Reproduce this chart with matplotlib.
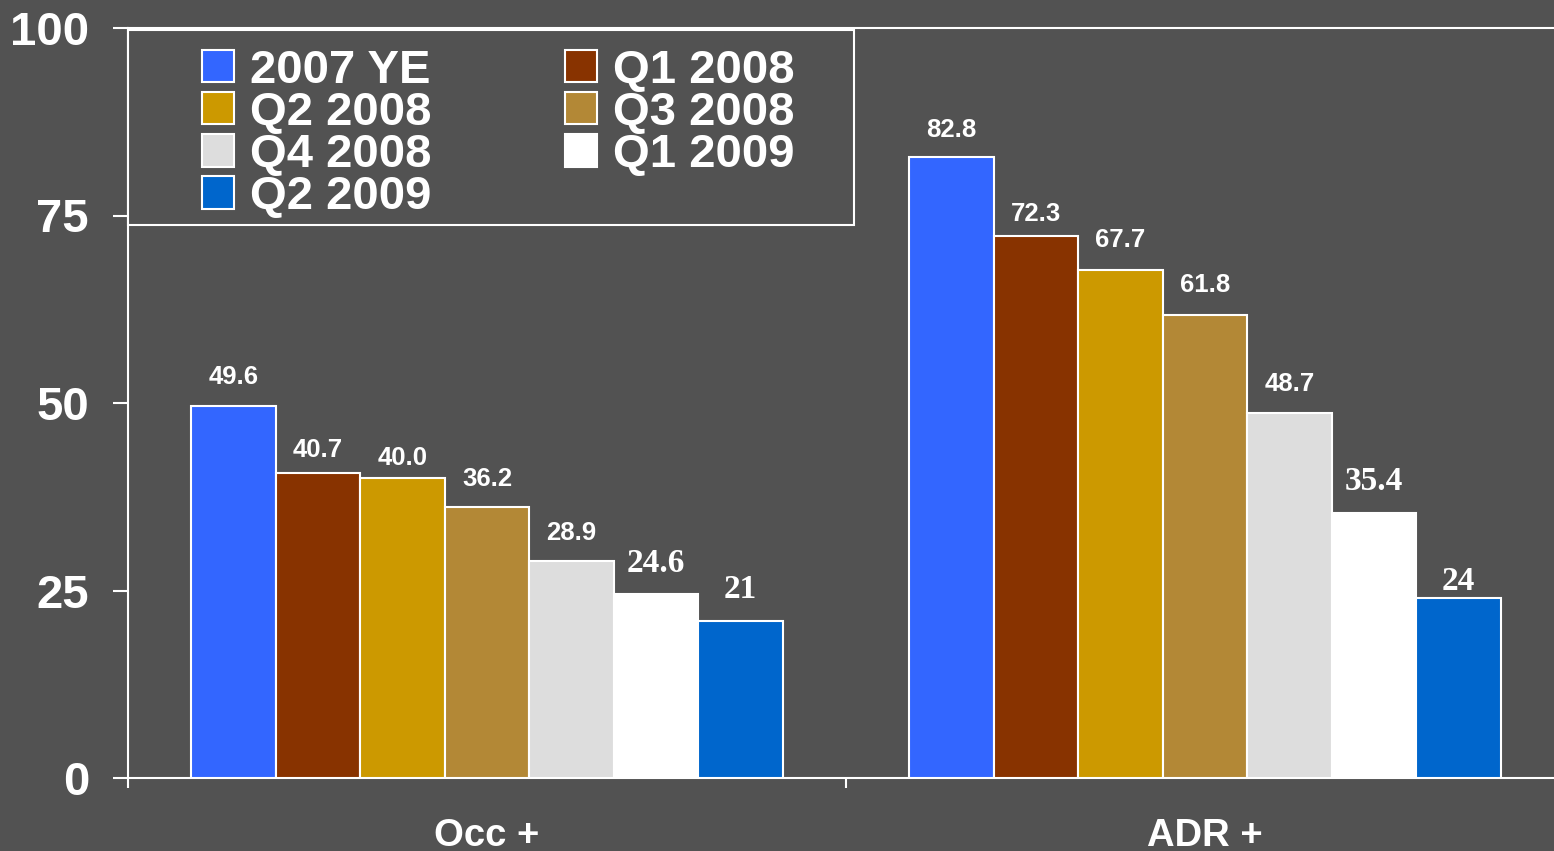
"""
Occ / ADR grouped bars by period, dark slide style.
"""

import numpy as np
import matplotlib
matplotlib.use('Agg')
from matplotlib import pyplot as plt
from matplotlib.patches import Rectangle

categories = ['Occ +', 'ADR +']
series = ['2007 YE', 'Q1 2008', 'Q2 2008', 'Q3 2008', 'Q4 2008', 'Q1 2009', 'Q2 2009']
occ_values = [49.6, 40.7, 40.0, 36.2, 28.9, 24.6, 21]
adr_values = [82.8, 72.3, 67.7, 61.8, 48.7, 35.4, 24]
occ_labels = ['49.6', '40.7', '40.0', '36.2', '28.9', '24.6', '21']
adr_labels = ['82.8', '72.3', '67.7', '61.8', '48.7', '35.4', '24']
yticks = [0, 25, 50, 75, 100]

colors = ['#3366FF', '#883300', '#CC9900', '#B38836', '#DDDDDD', '#FFFFFF', '#0066CC']
# the last two series have their labels set in a serif face
serif_series = {5, 6}
# gap (px) between bar top and label
occ_gaps = [17, 11, 8, 16, 16, 14, 15]
adr_gaps = [15, 10, 18, 17, 17, 16, 1]

BG = '#525252'
W, H = 1554, 851

plt.rcParams['font.family'] = ['Liberation Sans', 'DejaVu Sans']
plt.rcParams['font.weight'] = 'bold'

fig = plt.figure(figsize=(W / 100, H / 100), dpi=100, facecolor=BG)
ax = fig.add_axes([128 / W, (H - 778) / H, 1436 / W, 750 / H])
ax.set_facecolor(BG)

n = len(series)
bar_w = 0.1176
centers = np.arange(len(categories)) + 0.5
values = [occ_values, adr_values]
labels = [occ_labels, adr_labels]
gaps = [occ_gaps, adr_gaps]

handles = []
for j in range(n):
    xs = centers + (j - (n - 1) / 2) * bar_w
    ys = [values[0][j], values[1][j]]
    bars = ax.bar(xs, ys, width=bar_w, color=colors[j], edgecolor='white',
                  linewidth=1.5, label=series[j], zorder=3)
    handles.append(bars)
    for c, rect in enumerate(bars):
        serif = j in serif_series
        ax.annotate(labels[c][j],
                    (rect.get_x() + rect.get_width() / 2, rect.get_height()),
                    xytext=(0, gaps[c][j]), textcoords='offset pixels',
                    ha='center', va='bottom', color='white',
                    fontsize=24 if serif else 18.5, fontweight='bold',
                    family=['Liberation Serif'] if serif else ['Liberation Sans'])

ax.set_xlim(0, 2)
ax.set_ylim(0, 100)
ax.set_yticks(yticks)
ax.set_yticklabels([str(t) for t in yticks])
ax.tick_params(axis='y', colors='white', labelsize=34, length=11, width=1.5,
               direction='out', pad=17)
ax.set_xticks(centers)
ax.set_xticklabels(categories)
ax.set_xticks([0, 1, 2], minor=True)
ax.tick_params(axis='x', which='major', length=0, colors='white', labelsize=27.5, pad=29)
ax.tick_params(axis='x', which='minor', length=7, width=1.5, color='white')
for lab in ax.get_xticklabels() + ax.get_yticklabels():
    lab.set_fontweight('bold')

for side in ['left', 'bottom', 'top']:
    ax.spines[side].set_color('white')
    ax.spines[side].set_linewidth(1.5)
ax.spines['right'].set_visible(False)

# legend: row-wise order in two columns
order = [0, 2, 4, 6, 1, 3, 5]
leg = fig.legend([handles[i] for i in order], [series[i] for i in order],
                 ncol=2, frameon=False, loc='upper left',
                 bbox_to_anchor=(178 / W, 1 - 25 / H), borderpad=0,
                 handlelength=0.68, handleheight=0.68,
                 handletextpad=0.34, columnspacing=2.83, labelspacing=-0.04,
                 prop={'weight': 'bold', 'size': 34})
for t in leg.get_texts():
    t.set_color('white')

fig.patches.append(Rectangle((128 / W, 1 - 225 / H), (854 - 128) / W, (225 - 30) / H,
                             transform=fig.transFigure, facecolor=BG,
                             edgecolor='white', linewidth=1.5, zorder=4))
ax.set_zorder(1)
leg.set_zorder(5)

plt.savefig('out.png', dpi=100, facecolor=BG)
